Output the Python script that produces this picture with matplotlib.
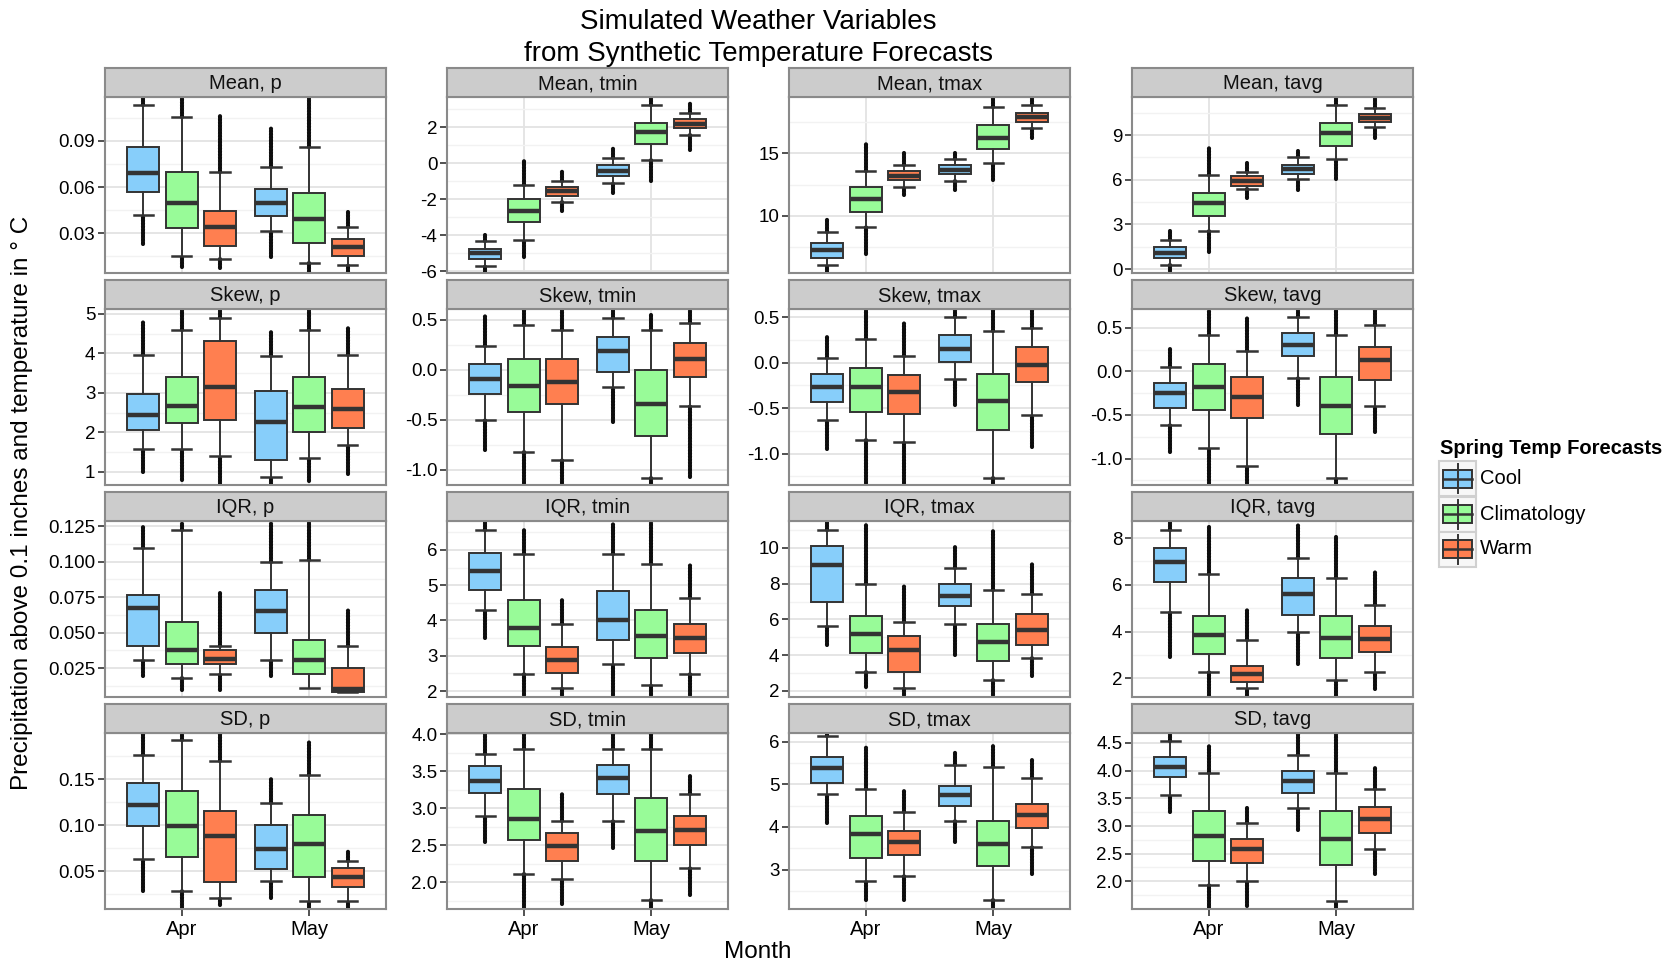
import matplotlib
matplotlib.use("Agg")
import matplotlib.pyplot as plt
from matplotlib.patches import Rectangle
from matplotlib.lines import Line2D
from matplotlib.ticker import FormatStrFormatter, AutoMinorLocator

plt.rcParams['font.family'] = ['Liberation Sans', 'DejaVu Sans']

# ---- data: one tuple per box, ordered Apr Cool/Clim/Warm, May Cool/Clim/Warm
# (lowest outlier, lower whisker, q1, median, q3, upper whisker, highest outlier)
months = ["Apr", "May"]
forecasts = ["Cool", "Climatology", "Warm"]
stat_names = ["Mean", "Skew", "IQR", "SD"]
var_names = ["p", "tmin", "tmax", "tavg"]

mean_p = [(0.0229, 0.0419, 0.0571, 0.069, 0.0859, 0.1134, 0.119),
          (0.0083, 0.0155, 0.0337, 0.0497, 0.0701, 0.1056, 0.119),
          (0.0077, 0.0133, 0.022, 0.0339, 0.0443, 0.0701, 0.1069),
          (0.0144, 0.0313, 0.0415, 0.0497, 0.0586, 0.0731, 0.0993),
          (0.0051, 0.0105, 0.0235, 0.0393, 0.056, 0.0859, 0.119),
          (0.0051, 0.0092, 0.0155, 0.0211, 0.0261, 0.0339, 0.0445)]
mean_tmin = [(-6.1, -5.7, -5.29, -5.0, -4.74, -4.33, -4.0),
             (-5.2, -4.24, -3.26, -2.65, -2.0, -1.22, 0.21),
             (-2.65, -2.13, -1.83, -1.55, -1.32, -0.98, -0.43),
             (-1.65, -1.09, -0.72, -0.4, -0.11, 0.32, 0.87),
             (-0.98, 0.21, 1.09, 1.74, 2.24, 3.26, 3.7),
             (0.76, 1.56, 1.96, 2.2, 2.44, 2.79, 3.41)]
mean_tmax = [(5.4, 6.04, 6.63, 7.25, 7.83, 8.66, 9.71),
             (6.9, 9.09, 10.32, 11.31, 12.3, 13.56, 15.93),
             (11.66, 12.3, 12.86, 13.2, 13.6, 14.04, 15.0),
             (12.06, 12.78, 13.34, 13.7, 14.09, 14.54, 15.0),
             (12.86, 14.2, 15.32, 16.2, 17.27, 18.71, 19.6),
             (16.25, 17.0, 17.53, 17.9, 18.26, 18.87, 19.6)]
mean_tavg = [(-0.3, 0.27, 0.77, 1.1, 1.5, 1.97, 2.56),
             (1.17, 2.56, 3.58, 4.42, 5.11, 6.32, 8.15),
             (4.75, 5.36, 5.6, 5.9, 6.23, 6.5, 7.1),
             (5.31, 6.03, 6.36, 6.7, 7.0, 7.52, 7.93),
             (6.05, 7.39, 8.26, 9.15, 9.83, 11.01, 11.6),
             (8.82, 9.52, 9.89, 10.15, 10.39, 10.83, 11.6)]
skew_p = [(1.0, 1.57, 2.07, 2.43, 2.98, 3.95, 4.82),
          (0.79, 1.57, 2.23, 2.68, 3.39, 4.6, 5.15),
          (0.6, 1.41, 2.31, 3.14, 4.31, 4.9, 5.15),
          (0.6, 0.86, 1.3, 2.27, 3.04, 3.94, 4.56),
          (0.77, 1.36, 2.0, 2.64, 3.39, 4.6, 5.15),
          (0.96, 1.68, 2.12, 2.59, 3.1, 3.95, 4.65)]
skew_tmin = [(-0.806, -0.5, -0.246, -0.09, 0.06, 0.237, 0.544),
             (-1.2, -0.823, -0.426, -0.16, 0.104, 0.444, 0.65),
             (-1.2, -0.9, -0.343, -0.123, 0.104, 0.4, 0.65),
             (-0.523, -0.176, -0.02, 0.184, 0.327, 0.52, 0.65),
             (-1.2, -1.08, -0.66, -0.34, 0.0, 0.4, 0.56),
             (-1.073, -0.36, -0.076, 0.104, 0.267, 0.467, 0.65)]
skew_tmax = [(-0.945, -0.627, -0.433, -0.268, -0.122, 0.053, 0.28),
             (-1.4, -0.847, -0.54, -0.27, -0.056, 0.255, 0.6),
             (-1.4, -0.872, -0.56, -0.323, -0.14, 0.075, 0.445),
             (-0.47, -0.18, 0.006, 0.145, 0.306, 0.5, 0.6),
             (-1.4, -1.264, -0.744, -0.425, -0.122, 0.343, 0.6),
             (-0.927, -0.576, -0.21, -0.03, 0.167, 0.383, 0.6)]
skew_tavg = [(-0.924, -0.618, -0.424, -0.248, -0.133, 0.046, 0.279),
             (-1.4, -0.874, -0.44, -0.183, 0.088, 0.413, 0.70),
             (-1.4, -1.08, -0.535, -0.294, -0.068, 0.23, 0.62),
             (-0.39, -0.073, 0.18, 0.305, 0.44, 0.62, 0.75),
             (-1.4, -1.218, -0.714, -0.393, -0.068, 0.413, 0.75),
             (-0.695, -0.393, -0.096, 0.127, 0.275, 0.527, 0.75)]
iqr_p = [(0.0197, 0.0308, 0.0406, 0.0674, 0.0768, 0.1094, 0.1242),
         (0.0096, 0.0179, 0.028, 0.038, 0.0573, 0.1225, 0.1275),
         (0.0096, 0.0207, 0.0277, 0.0315, 0.038, 0.0406, 0.078),
         (0.0197, 0.0308, 0.0498, 0.0655, 0.0801, 0.1, 0.128),
         (0.011, 0.011, 0.0207, 0.0308, 0.0446, 0.1012, 0.13),
         (0.0078, 0.0078, 0.0078, 0.0104, 0.0252, 0.0404, 0.0662)]
iqr_tmin = [(3.5, 4.31, 4.86, 5.39, 5.9, 6.57, 6.9),
            (1.8, 2.48, 3.27, 3.79, 4.59, 5.88, 6.57),
            (1.8, 2.08, 2.52, 2.88, 3.24, 3.9, 4.61),
            (1.8, 2.76, 3.44, 4.02, 4.83, 5.89, 6.76),
            (1.8, 2.16, 2.93, 3.56, 4.31, 5.6, 6.76),
            (1.8, 2.48, 3.09, 3.51, 3.9, 4.63, 5.6)]
iqr_tmax = [(4.56, 5.64, 6.99, 9.05, 10.1, 11.03, 11.6),
            (2.19, 3.03, 4.13, 5.18, 6.17, 7.98, 11.4),
            (1.6, 2.14, 3.03, 4.3, 5.08, 5.84, 7.89),
            (4.0, 5.74, 6.73, 7.33, 7.98, 8.86, 10.04),
            (1.6, 2.58, 3.68, 4.75, 5.74, 7.65, 11.03),
            (2.84, 3.82, 4.58, 5.4, 6.3, 7.42, 9.1)]
iqr_tavg = [(2.9, 4.82, 6.11, 6.99, 7.57, 8.34, 8.8),
            (1.1, 2.26, 3.03, 3.85, 4.67, 6.46, 8.46),
            (1.1, 1.58, 1.83, 2.19, 2.54, 3.64, 4.99),
            (2.62, 3.97, 4.72, 5.62, 6.28, 7.16, 8.6),
            (1.1, 1.93, 2.86, 3.73, 4.67, 6.28, 8.03),
            (1.55, 2.26, 3.12, 3.68, 4.25, 5.15, 6.6)]
sd_p = [(0.0286, 0.0636, 0.0986, 0.122, 0.1459, 0.176, 0.21),
        (0.005, 0.0286, 0.0654, 0.099, 0.137, 0.192, 0.21),
        (0.013, 0.0203, 0.0377, 0.088, 0.1155, 0.17, 0.21),
        (0.0203, 0.0394, 0.052, 0.0744, 0.1004, 0.124, 0.15),
        (0.005, 0.0178, 0.0438, 0.079, 0.111, 0.1545, 0.19),
        (0.005, 0.0178, 0.033, 0.0438, 0.0528, 0.061, 0.0719)]
sd_tmin = [(2.54, 2.9, 3.21, 3.37, 3.57, 3.74, 4.05),
           (1.6, 2.11, 2.57, 2.86, 3.26, 3.8, 4.05),
           (1.71, 2.04, 2.29, 2.49, 2.67, 2.83, 3.21),
           (2.47, 2.83, 3.2, 3.41, 3.59, 3.8, 4.05),
           (1.6, 1.76, 2.29, 2.69, 3.14, 3.81, 4.05),
           (1.83, 2.19, 2.5, 2.71, 2.9, 3.19, 3.47)]
sd_tmax = [(4.1, 4.78, 5.03, 5.38, 5.63, 6.13, 6.3),
           (2.28, 2.73, 3.28, 3.83, 4.25, 4.9, 5.9),
           (2.28, 2.85, 3.35, 3.65, 3.9, 4.35, 4.85),
           (3.65, 4.15, 4.5, 4.75, 4.95, 5.45, 5.78),
           (2.0, 2.28, 3.08, 3.6, 4.15, 5.4, 5.9),
           (2.9, 3.53, 3.98, 4.28, 4.53, 5.15, 5.6)]
sd_tavg = [(3.25, 3.56, 3.88, 4.07, 4.25, 4.53, 4.75),
           (1.45, 1.94, 2.37, 2.81, 3.27, 3.96, 4.47),
           (1.55, 2.01, 2.33, 2.58, 2.77, 3.05, 3.35),
           (2.92, 3.32, 3.6, 3.82, 4.0, 4.28, 4.75),
           (1.45, 1.65, 2.3, 2.77, 3.27, 3.95, 4.75),
           (2.14, 2.59, 2.87, 3.13, 3.35, 3.67, 4.05)]

panel_data = [mean_p, mean_tmin, mean_tmax, mean_tavg,
              skew_p, skew_tmin, skew_tmax, skew_tavg,
              iqr_p, iqr_tmin, iqr_tmax, iqr_tavg,
              sd_p, sd_tmin, sd_tmax, sd_tavg]

# y axis setup per panel (free scales)
ylims = [(0.0042, 0.1186), (-6.09, 3.69), (5.40, 19.52), (-0.26, 11.55),
         (0.67, 5.12), (-1.153, 0.607), (-1.344, 0.588), (-1.302, 0.714),
         (0.0046, 0.1287), (1.83, 6.82), (1.65, 11.51), (1.2, 8.73),
         (0.0088, 0.2), (1.64, 4.02), (2.08, 6.2), (1.5, 4.68)]
yticks = [[0.03, 0.06, 0.09], [-6, -4, -2, 0, 2], [10, 15], [0, 3, 6, 9],
          [1, 2, 3, 4, 5], [-1.0, -0.5, 0.0, 0.5], [-1.0, -0.5, 0.0, 0.5], [-1.0, -0.5, 0.0, 0.5],
          [0.025, 0.05, 0.075, 0.1, 0.125], [2, 3, 4, 5, 6], [2, 4, 6, 8, 10], [2, 4, 6, 8],
          [0.05, 0.10, 0.15], [2.0, 2.5, 3.0, 3.5, 4.0], [3, 4, 5, 6], [2.0, 2.5, 3.0, 3.5, 4.0, 4.5]]
yfmts = ['%.2f', '%d', '%d', '%d',
         '%d', '%.1f', '%.1f', '%.1f',
         '%.3f', '%d', '%d', '%d',
         '%.2f', '%.1f', '%d', '%.1f']

fill_colors = ['#87CEFA', '#98FB98', '#FF7F50']
dark = '#333333'

W, H = 1671, 967
fig = plt.figure(figsize=(W / 100, H / 100), dpi=100)


def fx(x):
    return x / W


def fy(y):
    return 1 - y / H


col_left = [105, 447, 789, 1132]
row_top = [97, 309, 521, 733]
pw, ph, sh = 281, 176, 29
offsets = [-0.3, 0.0, 0.3]

for i, stat in enumerate(stat_names):
    for j, var in enumerate(var_names):
        k = i * 4 + j
        boxes = panel_data[k]
        ax = fig.add_axes([fx(col_left[j]), fy(row_top[i] + ph), pw / W, ph / H])
        ax.set_xlim(0.4, 2.6)
        ax.set_ylim(*ylims[k])

        pos = [m + 1 + o for m in range(len(months)) for o in offsets]
        cols = fill_colors * len(months)
        bstats = [dict(whislo=b[1], q1=b[2], med=b[3], q3=b[4], whishi=b[5], fliers=[])
                  for b in boxes]
        art = ax.bxp(bstats, positions=pos, widths=0.25, capwidths=0.15,
                     patch_artist=True, showfliers=False, manage_ticks=False,
                     boxprops=dict(edgecolor=dark, linewidth=1.4),
                     medianprops=dict(color=dark, linewidth=3.2, solid_capstyle='butt'),
                     whiskerprops=dict(color=dark, linewidth=1.4),
                     capprops=dict(color=dark, linewidth=1.8))
        for patch, c in zip(art['boxes'], cols):
            patch.set_facecolor(c)
            patch.set_zorder(3)
        for key in ('medians', 'whiskers', 'caps'):
            for ln in art[key]:
                ln.set_zorder(3.5)

        # outliers, drawn as dense columns of dots
        for p, b in zip(pos, boxes):
            for lo, hi in ((b[0], b[1]), (b[5], b[6])):
                if hi > lo:
                    ax.plot([p, p], [lo, hi], color='#0d0d0d', lw=3.0,
                            ls=(0, (0.1, 0.6)), dash_capstyle='round', zorder=2.5)

        ax.set_yticks(yticks[k])
        ax.yaxis.set_major_formatter(FormatStrFormatter(yfmts[k]))
        ax.yaxis.set_minor_locator(AutoMinorLocator(2))
        ax.set_xticks([1, 2])
        ax.grid(which='major', color='#e3e3e3', lw=1.3, zorder=0)
        ax.grid(which='minor', axis='y', color='#f2f2f2', lw=1.0, zorder=0)
        ax.set_axisbelow(True)
        ax.tick_params(axis='y', which='major', direction='out', length=5, width=1.2,
                       color=dark, labelsize=13.5, pad=2, labelcolor='black')
        ax.tick_params(axis='y', which='minor', length=0)
        if i == len(stat_names) - 1:
            ax.set_xticklabels(months)
            ax.tick_params(axis='x', direction='out', length=5, width=1.2,
                           color=dark, labelsize=14.5, pad=3, labelcolor='black')
        else:
            ax.tick_params(axis='x', length=0, labelbottom=False)
        for sp in ax.spines.values():
            sp.set_color('#8a8a8a')
            sp.set_linewidth(1.5)

        # facet strip
        sax = fig.add_axes([fx(col_left[j]), fy(row_top[i]), pw / W, sh / H])
        sax.set_facecolor('#cccccc')
        sax.set_xticks([])
        sax.set_yticks([])
        for sp in sax.spines.values():
            sp.set_color('#8a8a8a')
            sp.set_linewidth(1.5)
        sax.text(0.5, 0.45, f"{stat}, {var}", ha='center', va='center',
                 fontsize=14.5, color='#111111')

# titles
fig.text(fx(758), fy(22), "Simulated Weather Variables", ha='center', va='center',
         fontsize=20)
fig.text(fx(758), fy(54), "from Synthetic Temperature Forecasts", ha='center', va='center',
         fontsize=20)
fig.text(fx(22), fy(503), "Precipitation above 0.1 inches and temperature in ° C",
         rotation=90, ha='center', va='center', fontsize=17.5)
fig.text(fx(758), fy(952), "Month", ha='center', va='center', fontsize=17.5)

# legend
fig.text(fx(1440), fy(449), "Spring Temp Forecasts", ha='left', va='center',
         fontsize=14.5, fontweight='bold')
key_top = [461, 496.5, 531.5]
for r, (name, c) in enumerate(zip(forecasts, fill_colors)):
    t = key_top[r]
    fig.add_artist(Rectangle((fx(1439), fy(t + 35)), 37 / W, 35 / H,
                             transform=fig.transFigure, facecolor='#f7f7f7',
                             edgecolor='#d0d0d0', lw=1.5))
    fig.add_artist(Line2D([fx(1457.5), fx(1457.5)], [fy(t + 3), fy(t + 32)],
                          transform=fig.transFigure, color=dark, lw=1.4))
    fig.add_artist(Rectangle((fx(1443), fy(t + 26.5)), 29 / W, 18 / H,
                             transform=fig.transFigure, facecolor=c,
                             edgecolor=dark, lw=1.4))
    fig.add_artist(Line2D([fx(1443), fx(1472)], [fy(t + 17.5), fy(t + 17.5)],
                          transform=fig.transFigure, color=dark, lw=1.8))
    fig.text(fx(1480), fy(t + 17.5), name, ha='left', va='center', fontsize=14.5)

fig.savefig("out.png", dpi=100)
